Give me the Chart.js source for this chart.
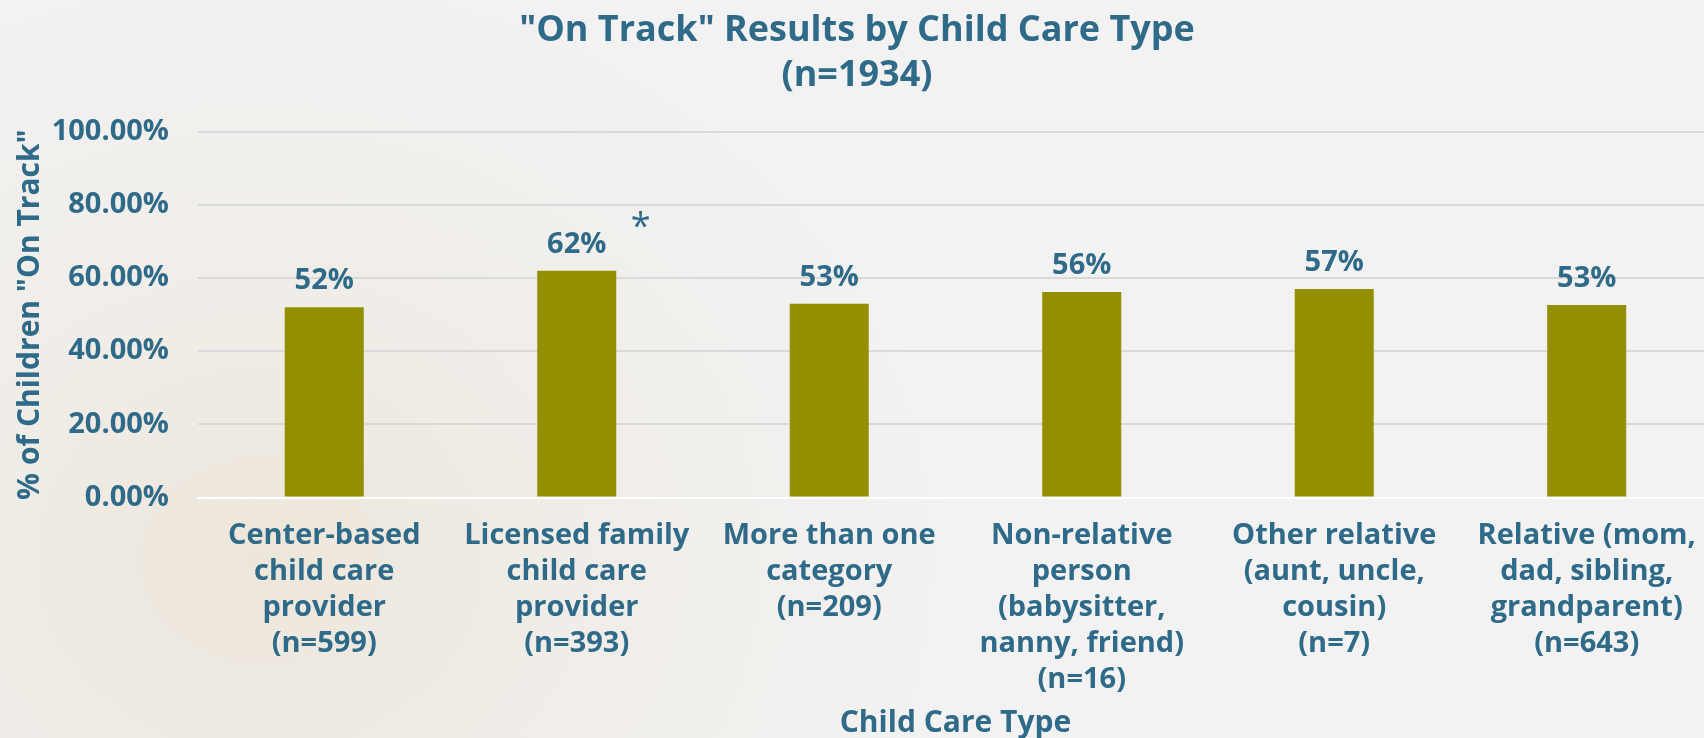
<!DOCTYPE html>
<html>
<head>
<meta charset="utf-8">
<script src="https://cdn.jsdelivr.net/npm/chart.js@4"></script>
<style>
  html, body { margin: 0; padding: 0; width: 1704px; height: 738px; overflow: hidden; }
  body {
    background:
      radial-gradient(ellipse 700px 600px at 260px 560px, rgba(236,228,214,0.85) 0%, rgba(239,234,226,0.6) 45%, rgba(242,242,242,0) 100%),
      #F2F2F2;
  }
  canvas { display: block; }
</style>
</head>
<body>
<canvas id="c" width="1716" height="738"></canvas>
<script>
const categories = [
  ['Center-based', 'child care', 'provider', '(n=599)'],
  ['Licensed family', 'child care', 'provider', '(n=393)'],
  ['More than one', 'category', '(n=209)'],
  ['Non-relative', 'person', '(babysitter,', 'nanny, friend)', '(n=16)'],
  ['Other relative', '(aunt, uncle,', 'cousin)', '(n=7)'],
  ['Relative (mom,', 'dad, sibling,', 'grandparent)', '(n=643)']
];
const onTrackPct = [52.0, 62.0, 53.0, 56.2, 57.0, 52.6];
const notes = ['', '*', '', '', '', ''];
const titleLines = ['"On Track" Results by Child Care Type', '(n=1934)'];
const yAxisTitle = '% of Children "On Track"';
const xAxisTitle = 'Child Care Type';

const TEXT = '#2F6A89';
const BAR = '#948F00';
const FONT = "'Open Sans', sans-serif";

const valueLabels = {
  id: 'valueLabels',
  afterDatasetsDraw(chart) {
    const ctx = chart.ctx;
    const meta = chart.getDatasetMeta(0);
    ctx.save();
    meta.data.forEach((bar, i) => {
      const v = chart.data.datasets[0].data[i];
      ctx.font = `bold 29px ${FONT}`;
      ctx.fillStyle = TEXT;
      ctx.textAlign = 'center';
      ctx.textBaseline = 'alphabetic';
      const label = Math.round(v) + '%';
      ctx.fillText(label, bar.x, bar.y - 18);
      if (notes[i]) {
        ctx.font = `normal 36px ${FONT}`;
        ctx.fillText(notes[i], bar.x + 64, bar.y - 33);
      }
    });
    ctx.restore();
  }
};

new Chart(document.getElementById('c'), {
  type: 'bar',
  data: {
    labels: categories,
    datasets: [{
      data: onTrackPct,
      backgroundColor: BAR,
      borderWidth: 0,
      categoryPercentage: 1,
      barPercentage: 0.313
    }]
  },
  plugins: [valueLabels],
  options: {
    responsive: false,
    animation: false,
    layout: { padding: { left: 0, right: 2, top: 0, bottom: 0 } },
    plugins: {
      legend: { display: false },
      tooltip: { enabled: false },
      title: {
        display: true,
        text: titleLines,
        color: TEXT,
        font: { family: FONT, size: 36, weight: 'bold', lineHeight: 1.25 },
        padding: { top: 8, bottom: 33.7 }
      }
    },
    scales: {
      x: {
        grid: { display: false, drawTicks: false },
        border: { display: true, color: '#FFFFFF', width: 2 },
        ticks: {
          color: TEXT,
          font: { family: FONT, size: 29, weight: 'bold', lineHeight: 1.24 },
          padding: 20,
          maxRotation: 0,
          autoSkip: false
        },
        title: {
          display: true,
          text: xAxisTitle,
          color: TEXT,
          font: { family: FONT, size: 30, weight: 'bold', lineHeight: 1.0 },
          padding: { top: 0, bottom: 0 }
        },
        afterFit(scale) { scale.height = 240.5; }
      },
      y: {
        min: 0,
        max: 100,
        ticks: {
          stepSize: 20,
          color: TEXT,
          font: { family: FONT, size: 29, weight: 'bold' },
          padding: 29,
          callback: v => v.toFixed(2) + '%'
        },
        grid: { color: '#D9D9D9', lineWidth: 2, drawTicks: false },
        border: { display: false },
        title: {
          display: true,
          text: yAxisTitle,
          color: TEXT,
          font: { family: FONT, size: 30, weight: 'bold', lineHeight: 1.1 },
          padding: { top: 14, bottom: 0 }
        },
        afterFit(scale) { scale.width = 198; }
      }
    }
  }
});
</script>
</body>
</html>
